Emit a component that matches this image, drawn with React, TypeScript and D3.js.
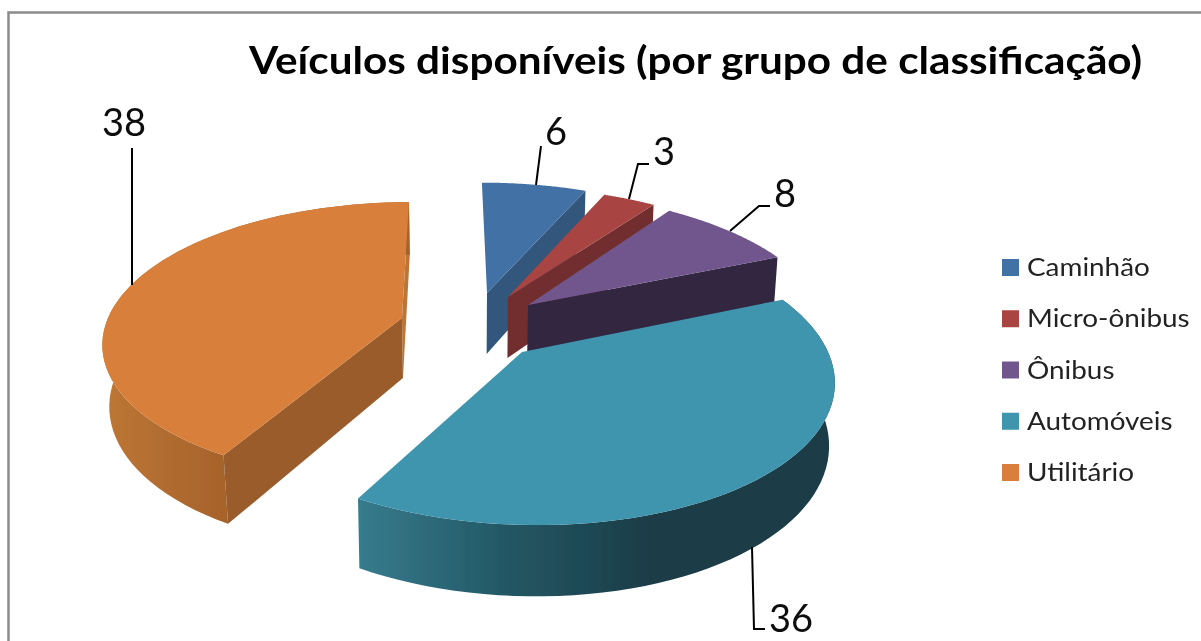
import React from "react";
import * as d3 from "d3";

const categories = ["Caminhão", "Micro-ônibus", "Ônibus", "Automóveis", "Utilitário"];
const values = [6, 3, 8, 36, 38];
const title = "Veículos disponíveis (por grupo de classificação)";
const topColors = ["#4271a5", "#a84442", "#71568d", "#3f95ae", "#d8803b"];
const sideColors = ["#30567c", "#722f2d", "#31253f", "#1a3c47", "#995c2a"];

// Per-slice placement of the exploded wedges (screen apex, size, extrusion)
const apexX = [487, 508, 528, 522, 402];
const apexY = [293, 297, 305, 352, 318];
const sliceScaleX = [0.985, 0.99, 0.978, 1.02, 0.98];
const sliceScaleY = [0.92, 0.92, 0.94, 1.03, 0.965];
const sliceDepth = [61, 61, 48, 61, 60];
const sliceTaper = [0.99, 0.99, 0.99, 0.985, 0.98];
const drawOrder = [4, 0, 1, 2, 3];

const RADIUS = 300;
const FLATTEN = 140;
const PERSPECTIVE = 0.167;
const VANISH_X = 450;
const SHEAR = 0.00125;

const labelX = [556, 664, 785, 791, 124];
const labelY = [145, 165, 207, 632, 136];
const leaderX = [[541, 536], [649, 638, 629], [770, 759, 730], [752, 754, 765], [132, 132]];
const leaderY = [[146, 185], [164, 164, 199], [206, 206, 231], [547, 629, 629], [148, 285]];

type P = [number, number];

export default function App() {
  const arcs = d3.pie<number>().sort(null).value((d) => d)(values);
  const line = d3.line();
  const legendY = d3.scaleLinear().domain([0, 4]).range([259, 464]);

  const top = (i: number, a: number, r = 1): P => {
    const den = 1 + PERSPECTIVE * Math.cos(a) * r;
    const dy = (-FLATTEN * sliceScaleY[i] * r * Math.cos(a)) / den;
    const shear = (apexX[i] - VANISH_X) * SHEAR;
    const dx = (RADIUS * sliceScaleX[i] * r * Math.sin(a)) / den + shear * dy;
    return [apexX[i] + dx, apexY[i] + dy];
  };
  const bottom = (i: number, a: number, r = 1): P => {
    const [x, y] = top(i, a, r);
    const den = 1 + PERSPECTIVE * Math.cos(a) * r;
    return [VANISH_X + (x - VANISH_X) * sliceTaper[i], y + sliceDepth[i] * Math.pow(den, -0.85)];
  };
  const samples = (a0: number, a1: number) => d3.range(0, 61).map((k) => a0 + ((a1 - a0) * k) / 60);

  const faces = drawOrder.map((i) => {
    const { startAngle: a0, endAngle: a1 } = arcs[i];
    const ring = samples(a0, a1);
    const topPath = line([top(i, a0, 0), ...ring.map((a) => top(i, a))])! + "Z";
    const outer = line([...ring.map((a) => top(i, a)), ...ring.slice().reverse().map((a) => bottom(i, a))])! + "Z";
    const radial = (a: number) => line([top(i, a, 0), top(i, a), bottom(i, a), bottom(i, a, 0)])! + "Z";
    return { i, topPath, outer, startWall: radial(a0), endWall: radial(a1) };
  });

  return (
    <svg
      width={1201}
      height={641}
      viewBox="0 0 1201 641"
      style={{ position: "absolute", left: 0, top: 0, background: "#fff" }}
      fontFamily="Lato, Carlito, sans-serif"
    >
      <defs>
        <linearGradient id="autoWall" gradientUnits="userSpaceOnUse" x1={356} x2={832} y1={0} y2={0}>
          <stop offset="0" stopColor="#367c8e" />
          <stop offset="0.3" stopColor="#245966" />
          <stop offset="0.62" stopColor="#1a3c47" />
          <stop offset="1" stopColor="#1a3c47" />
        </linearGradient>
        <linearGradient id="utilWall" gradientUnits="userSpaceOnUse" x1={103} x2={228} y1={0} y2={0}>
          <stop offset="0" stopColor="#bd7635" />
          <stop offset="1" stopColor="#a5622b" />
        </linearGradient>
        <filter id="soft" x="-5%" y="-5%" width="110%" height="110%">
          <feGaussianBlur stdDeviation="0.55" />
        </filter>
      </defs>

      <g filter="url(#soft)">
        <path d="M8.5 641V12.5H1201" fill="none" stroke="#8c8c8c" strokeWidth={2.5} />

        {faces.map(({ i, topPath, outer, startWall, endWall }) => (
          <g key={categories[i]}>
            {i === 4 && <path d={endWall} fill="#bb7434" />}
            {i === 3 || i === 4 ? (
              <path d={outer} fill={i === 3 ? "url(#autoWall)" : "url(#utilWall)"} />
            ) : null}
            {i === 4 ? (
              <path d={startWall} fill={sideColors[i]} />
            ) : i < 3 ? (
              <path d={endWall} fill={sideColors[i]} />
            ) : null}
            <path d={topPath} fill={topColors[i]} />
          </g>
        ))}

        {values.map((v, i) => (
          <g key={i}>
            <path
              d={line(leaderX[i].map((x, k) => [x, leaderY[i][k]] as P))!}
              fill="none"
              stroke="#000"
              strokeWidth={2}
            />
            <text x={labelX[i]} y={labelY[i]} textAnchor="middle" fontSize={38} fill="#111">
              {v}
            </text>
          </g>
        ))}

        <text x={249} y={74} fontSize={38} fontWeight={700} fill="#000" textLength={893} lengthAdjust="spacingAndGlyphs">
          {title}
        </text>

        {categories.map((c, i) => (
          <g key={c}>
            <rect x={1002} y={legendY(i)} width={17} height={17} fill={topColors[i]} />
            <text transform={`translate(1027,${legendY(i) + 17}) scale(1.115,1)`} fontSize={25} fill="#222">
              {c}
            </text>
          </g>
        ))}
      </g>
    </svg>
  );
}
